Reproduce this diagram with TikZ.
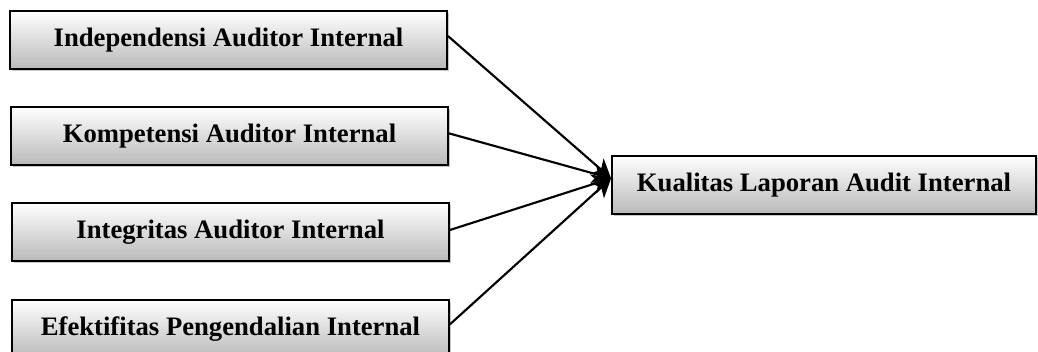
\documentclass[tikz,border=0pt]{standalone}
\usepackage{fontspec}
\setmainfont{Liberation Serif}
\usetikzlibrary{arrows.meta,shadows}
\begin{document}
\begin{tikzpicture}[x=0.75pt,y=-0.75pt,
  box/.style={draw=black,line width=1.4pt,rectangle,minimum height=58*0.75pt,
    top color=white,bottom color=gray!55,inner sep=0pt,
    drop shadow={shadow xshift=1.2pt,shadow yshift=-1.2pt,fill=gray!55,opacity=0.8},
    font=\fontsize{20}{24}\selectfont\bfseries},
  conn/.style={line width=1.6pt,-{Stealth[length=14pt,width=15pt,inset=4pt]}}]
\useasboundingbox (0,0) rectangle (1038,352);
\node[box,minimum width=437*0.75pt] (b1) at (228.5,40) {Independensi Auditor Internal};
\node[box,minimum width=437*0.75pt] (b2) at (229.5,136) {Kompetensi Auditor Internal};
\node[box,minimum width=437*0.75pt] (b3) at (230.5,232) {Integritas Auditor Internal};
\node[box,minimum width=437*0.75pt] (b4) at (230.5,329) {Efektifitas Pengendalian Internal};
\node[box,minimum width=424*0.75pt] (r) at (824,185) {Kualitas Laporan Audit Internal};
\coordinate (tip) at ([yshift=5pt]r.west);
\draw[conn] ([yshift=3pt]b1.east) -- (tip);
\draw[conn] ([yshift=2pt]b2.east) -- (tip);
\draw[conn] ([yshift=1.5pt]b3.east) -- (tip);
\draw[conn] ([yshift=3.5pt]b4.east) -- (tip);
\end{tikzpicture}
\end{document}
